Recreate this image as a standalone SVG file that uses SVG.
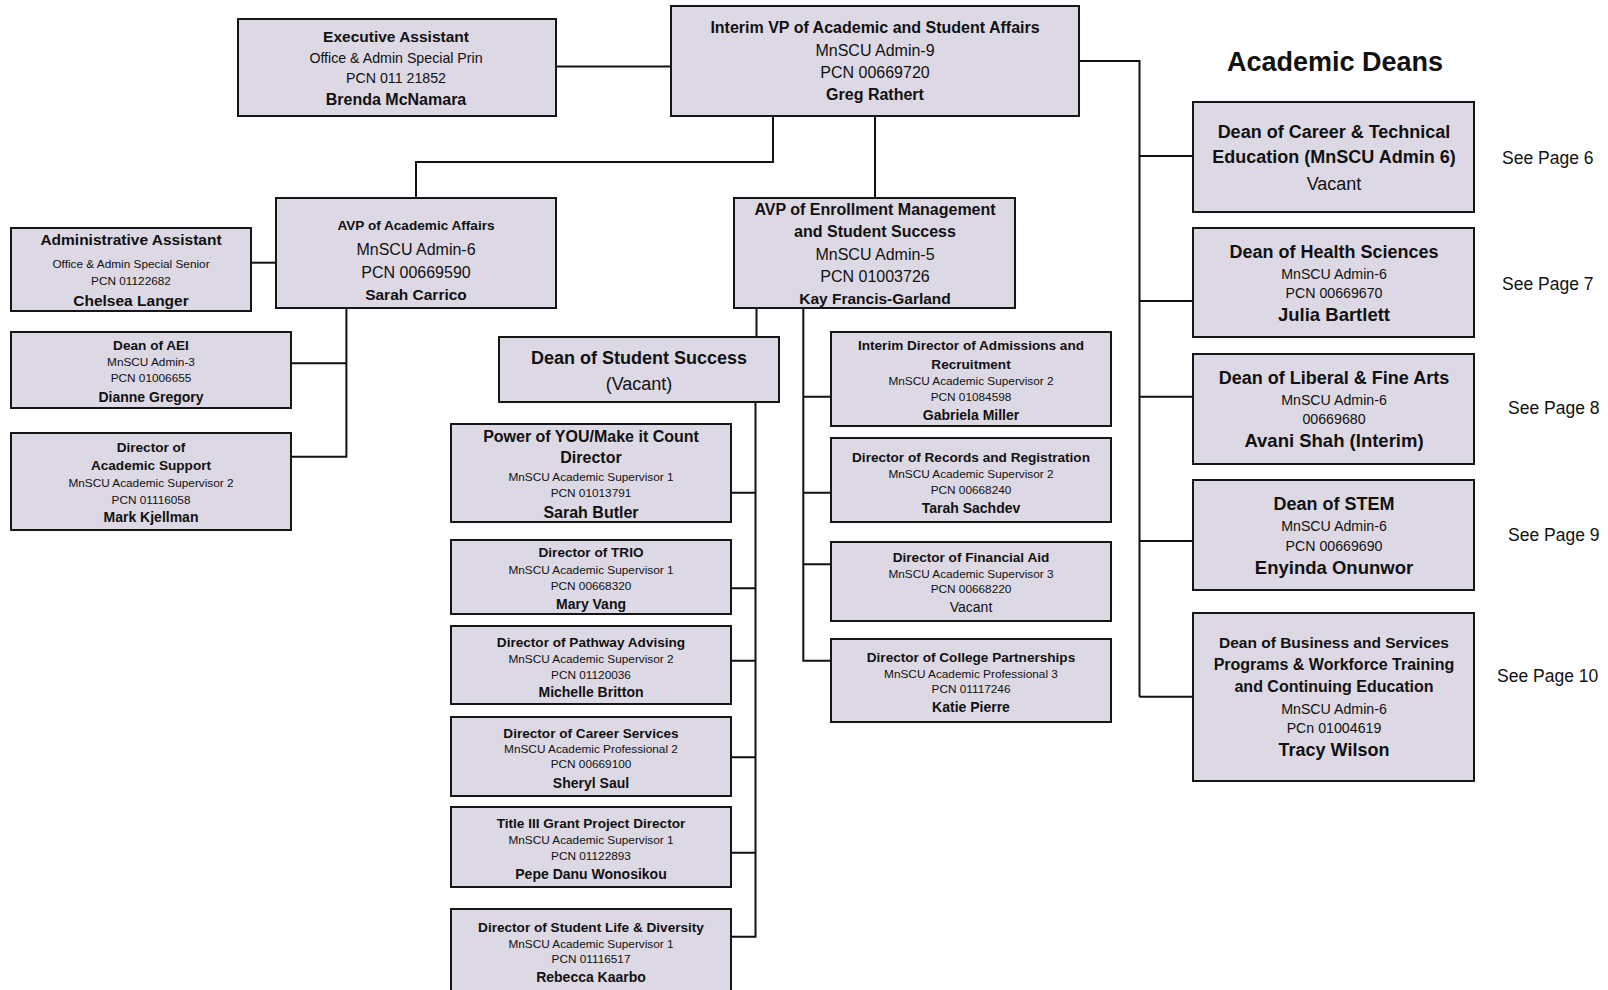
<svg xmlns="http://www.w3.org/2000/svg" width="1608" height="990" viewBox="0 0 1608 990">
  <style>
    .box { fill: #dcd8e4; stroke: #161616; stroke-width: 2; }
    .ln { fill: none; stroke: #111; stroke-width: 2; }
    text { font-family: "Liberation Sans", Arial, sans-serif; fill: #111; text-anchor: middle; }
    .b { font-weight: bold; }
    .l { text-anchor: start; }
    .s12 { font-size: 11.8px; }
    .s13 { font-size: 13.6px; }
    .s14 { font-size: 14px; }
    .s142 { font-size: 14.2px; }
    .s155 { font-size: 15.5px; }
    .s16 { font-size: 16px; }
    .s18 { font-size: 18px; }
    .s185 { font-size: 18.5px; }
    .s175 { font-size: 17.5px; }
  </style>
  <rect width="1608" height="990" fill="#ffffff"/>

  <!-- reporting lines -->
  <g id="connectors">
    <path class="ln" d="M556 66.5H671"/>
    <path class="ln" d="M1079 61H1139.5V696.7"/>
    <path class="ln" d="M1139.5 156H1193M1139.5 301H1193M1139.5 396.7H1193M1139.5 541H1193M1139.5 696.7H1193"/>
    <path class="ln" d="M773 116V162H416V198"/>
    <path class="ln" d="M875 116V198"/>
    <path class="ln" d="M251 262.7H276"/>
    <path class="ln" d="M346.4 308V456.7H291M346.4 363.3H291"/>
    <path class="ln" d="M756.5 308V337"/>
    <path class="ln" d="M755.5 402V936.7H731M755.5 492.7H731M755.5 588.3H731M755.5 660.7H731M755.5 757.3H731M755.5 852.7H731"/>
    <path class="ln" d="M803.3 308V660.7H831M803.3 396.7H831M803.3 492.7H831M803.3 564.3H831"/>
  </g>

  <g id="vp">
    <rect class="box" x="671" y="6" width="408" height="110"/>
    <text class="b s16" x="875" y="33">Interim VP of Academic and Student Affairs</text>
    <text class="s16" x="875" y="56">MnSCU Admin-9</text>
    <text class="s16" x="875" y="78">PCN 00669720</text>
    <text class="b s16" x="875" y="100">Greg Rathert</text>
  </g>

  <g id="exec-assistant">
    <rect class="box" x="238" y="19" width="318" height="97"/>
    <text class="b s155" x="396" y="42">Executive Assistant</text>
    <text class="s142" x="396" y="62.5">Office &amp; Admin Special Prin</text>
    <text class="s142" x="396" y="83">PCN 011 21852</text>
    <text class="b s16" x="396" y="105">Brenda McNamara</text>
  </g>

  <g id="avp-academic-affairs">
    <rect class="box" x="276" y="198" width="280" height="110"/>
    <text class="b s13" x="416" y="230">AVP of Academic Affairs</text>
    <text class="s16" x="416" y="255">MnSCU Admin-6</text>
    <text class="s16" x="416" y="277.5">PCN 00669590</text>
    <text class="b s155" x="416" y="300">Sarah Carrico</text>
  </g>

  <g id="avp-enrollment">
    <rect class="box" x="734" y="198" width="281" height="110"/>
    <text class="b s16" x="875" y="214.5">AVP of Enrollment Management</text>
    <text class="b s16" x="875" y="237">and Student Success</text>
    <text class="s16" x="875" y="259.5">MnSCU Admin-5</text>
    <text class="s16" x="875" y="282">PCN 01003726</text>
    <text class="b s155" x="875" y="304">Kay Francis-Garland</text>
  </g>

  <g id="admin-assistant">
    <rect class="box" x="11" y="228" width="240" height="83"/>
    <text class="b s155" x="131" y="245">Administrative Assistant</text>
    <text class="s12" x="131" y="267.5">Office &amp; Admin Special Senior</text>
    <text class="s12" x="131" y="285">PCN 01122682</text>
    <text class="b s155" x="131" y="306">Chelsea Langer</text>
  </g>

  <g id="dean-aei">
    <rect class="box" x="11" y="332" width="280" height="76"/>
    <text class="b s13" x="151" y="350">Dean of AEI</text>
    <text class="s12" x="151" y="366">MnSCU Admin-3</text>
    <text class="s12" x="151" y="382">PCN 01006655</text>
    <text class="b s14" x="151" y="402">Dianne Gregory</text>
  </g>

  <g id="director-academic-support">
    <rect class="box" x="11" y="433" width="280" height="97"/>
    <text class="b s13" x="151" y="452">Director of</text>
    <text class="b s13" x="151" y="470">Academic Support</text>
    <text class="s12" x="151" y="487">MnSCU Academic Supervisor 2</text>
    <text class="s12" x="151" y="503.5">PCN 01116058</text>
    <text class="b s14" x="151" y="522">Mark Kjellman</text>
  </g>

  <g id="dean-student-success">
    <rect class="box" x="499" y="337" width="280" height="65"/>
    <text class="b s18" x="639" y="363.5">Dean of Student Success</text>
    <text class="s18" x="639" y="389.5">(Vacant)</text>
  </g>

  <g id="power-of-you">
    <rect class="box" x="451" y="424" width="280" height="98"/>
    <text class="b s16" x="591" y="441.5">Power of YOU/Make it Count</text>
    <text class="b s16" x="591" y="463">Director</text>
    <text class="s12" x="591" y="480.8">MnSCU Academic Supervisor 1</text>
    <text class="s12" x="591" y="496.7">PCN 01013791</text>
    <text class="b s16" x="591" y="518">Sarah Butler</text>
  </g>

  <g id="director-trio">
    <rect class="box" x="451" y="540" width="280" height="74"/>
    <text class="b s13" x="591" y="557.3">Director of TRIO</text>
    <text class="s12" x="591" y="573.5">MnSCU Academic Supervisor 1</text>
    <text class="s12" x="591" y="589.7">PCN 00668320</text>
    <text class="b s14" x="591" y="609">Mary Vang</text>
  </g>

  <g id="director-pathway">
    <rect class="box" x="451" y="626" width="280" height="78"/>
    <text class="b s13" x="591" y="646.6">Director of Pathway Advising</text>
    <text class="s12" x="591" y="663.2">MnSCU Academic Supervisor 2</text>
    <text class="s12" x="591" y="678.7">PCN 01120036</text>
    <text class="b s14" x="591" y="697">Michelle Britton</text>
  </g>

  <g id="director-career">
    <rect class="box" x="451" y="717" width="280" height="79"/>
    <text class="b s13" x="591" y="737.9">Director of Career Services</text>
    <text class="s12" x="591" y="753.2">MnSCU Academic Professional 2</text>
    <text class="s12" x="591" y="768.3">PCN 00669100</text>
    <text class="b s14" x="591" y="788">Sheryl Saul</text>
  </g>

  <g id="title-three">
    <rect class="box" x="451" y="807" width="280" height="80"/>
    <text class="b s13" x="591" y="828">Title III Grant Project Director</text>
    <text class="s12" x="591" y="844.2">MnSCU Academic Supervisor 1</text>
    <text class="s12" x="591" y="859.7">PCN 01122893</text>
    <text class="b s14" x="591" y="879.4">Pepe Danu Wonosikou</text>
  </g>

  <g id="director-student-life">
    <rect class="box" x="451" y="909" width="280" height="88"/>
    <text class="b s13" x="591" y="931.6">Director of Student Life &amp; Diversity</text>
    <text class="s12" x="591" y="948.2">MnSCU Academic Supervisor 1</text>
    <text class="s12" x="591" y="963.3">PCN 01116517</text>
    <text class="b s14" x="591" y="982">Rebecca Kaarbo</text>
  </g>

  <g id="director-admissions">
    <rect class="box" x="831" y="332" width="280" height="94"/>
    <text class="b s13" x="971" y="349.8">Interim Director of Admissions and</text>
    <text class="b s13" x="971" y="369">Recruitment</text>
    <text class="s12" x="971" y="385.2">MnSCU Academic Supervisor 2</text>
    <text class="s12" x="971" y="400.7">PCN 01084598</text>
    <text class="b s14" x="971" y="420.4">Gabriela Miller</text>
  </g>

  <g id="director-records">
    <rect class="box" x="831" y="438" width="280" height="84"/>
    <text class="b s13" x="971" y="461.5">Director of Records and Registration</text>
    <text class="s12" x="971" y="478.2">MnSCU Academic Supervisor 2</text>
    <text class="s12" x="971" y="494">PCN 00668240</text>
    <text class="b s14" x="971" y="512.7">Tarah Sachdev</text>
  </g>

  <g id="director-financial-aid">
    <rect class="box" x="831" y="542" width="280" height="79"/>
    <text class="b s13" x="971" y="561.5">Director of Financial Aid</text>
    <text class="s12" x="971" y="578.2">MnSCU Academic Supervisor 3</text>
    <text class="s12" x="971" y="593.3">PCN 00668220</text>
    <text class="s14" x="971" y="611.7">Vacant</text>
  </g>

  <g id="director-partnerships">
    <rect class="box" x="831" y="639" width="280" height="83"/>
    <text class="b s13" x="971" y="661.5">Director of College Partnerships</text>
    <text class="s12" x="971" y="677.5">MnSCU Academic Professional 3</text>
    <text class="s12" x="971" y="693.3">PCN 01117246</text>
    <text class="b s14" x="971" y="712">Katie Pierre</text>
  </g>

  <text class="b" x="1335" y="70.5" style="font-size:27px">Academic Deans</text>

  <g id="dean-cte">
    <rect class="box" x="1193" y="102" width="281" height="110"/>
    <text class="b s18" x="1334" y="138">Dean of Career &amp; Technical</text>
    <text class="b s18" x="1334" y="163">Education (MnSCU Admin 6)</text>
    <text class="s18" x="1334" y="190">Vacant</text>
    <text class="l s175" x="1502" y="164">See Page 6</text>
  </g>

  <g id="dean-health">
    <rect class="box" x="1193" y="228" width="281" height="109"/>
    <text class="b s18" x="1334" y="258">Dean of Health Sciences</text>
    <text class="s142" x="1334" y="279">MnSCU Admin-6</text>
    <text class="s142" x="1334" y="298">PCN 00669670</text>
    <text class="b s185" x="1334" y="321">Julia Bartlett</text>
    <text class="l s175" x="1502" y="290">See Page 7</text>
  </g>

  <g id="dean-liberal-arts">
    <rect class="box" x="1193" y="354" width="281" height="110"/>
    <text class="b s18" x="1334" y="384">Dean of Liberal &amp; Fine Arts</text>
    <text class="s142" x="1334" y="405">MnSCU Admin-6</text>
    <text class="s142" x="1334" y="424">00669680</text>
    <text class="b s185" x="1334" y="447">Avani Shah (Interim)</text>
    <text class="l s175" x="1508" y="414">See Page 8</text>
  </g>

  <g id="dean-stem">
    <rect class="box" x="1193" y="480" width="281" height="110"/>
    <text class="b s18" x="1334" y="510">Dean of STEM</text>
    <text class="s142" x="1334" y="531">MnSCU Admin-6</text>
    <text class="s142" x="1334" y="551">PCN 00669690</text>
    <text class="b s185" x="1334" y="574">Enyinda Onunwor</text>
    <text class="l s175" x="1508" y="541">See Page 9</text>
  </g>

  <g id="dean-business">
    <rect class="box" x="1193" y="613" width="281" height="168"/>
    <text class="b s155" x="1334" y="647.5">Dean of Business and Services</text>
    <text class="b s16" x="1334" y="670">Programs &amp; Workforce Training</text>
    <text class="b s16" x="1334" y="692">and Continuing Education</text>
    <text class="s142" x="1334" y="713.5">MnSCU Admin-6</text>
    <text class="s142" x="1334" y="732.5">PCn 01004619</text>
    <text class="b s18" x="1334" y="756">Tracy Wilson</text>
    <text class="l s175" x="1497" y="682">See Page 10</text>
  </g>
</svg>
